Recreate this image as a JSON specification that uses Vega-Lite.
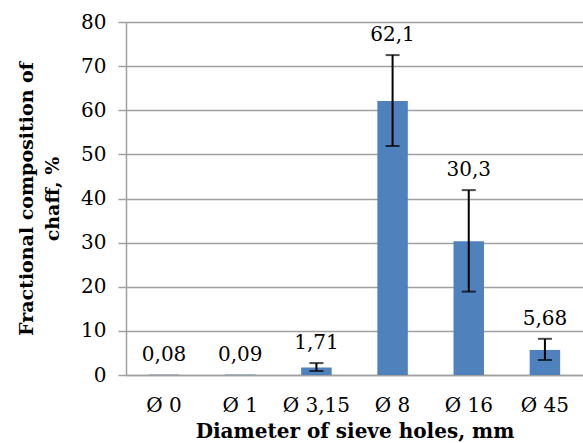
{
  "$schema": "https://vega.github.io/schema/vega-lite/v6.json",
  "width": 457,
  "height": 353,
  "autosize": {"type": "none"},
  "padding": {"left": 126, "top": 22, "right": 0, "bottom": 68},
  "background": "white",
  "config": {
    "view": {"stroke": null},
    "font": "DejaVu Serif"
  },
  "data": {
    "values": [
      {"d": "Ø 0", "v": 0.08, "lo": 0.08, "hi": 0.08, "lab": "0,08"},
      {"d": "Ø 1", "v": 0.09, "lo": 0.09, "hi": 0.09, "lab": "0,09"},
      {"d": "Ø 3,15", "v": 1.71, "lo": 0.9, "hi": 2.7, "lab": "1,71"},
      {"d": "Ø 8", "v": 62.1, "lo": 51.9, "hi": 72.5, "lab": "62,1"},
      {"d": "Ø 16", "v": 30.3, "lo": 18.9, "hi": 41.9, "lab": "30,3"},
      {"d": "Ø 45", "v": 5.68, "lo": 3.4, "hi": 8.2, "lab": "5,68"}
    ]
  },
  "encoding": {
    "x": {
      "field": "d", "type": "nominal", "sort": null,
      "scale": {"paddingInner": 0.6, "paddingOuter": 0.3},
      "axis": {
        "title": "Diameter of sieve holes, mm",
        "titleFont": "DejaVu Serif", "titleFontSize": 20, "titleFontWeight": "bold", "titleColor": "black",
        "titlePadding": 6,
        "labelFont": "DejaVu Serif", "labelFontSize": 20, "labelColor": "black", "labelAngle": 0,
        "labelPadding": 20,
        "ticks": false, "domainColor": "#a0a0a0", "domainWidth": 1.5
      }
    }
  },
  "layer": [
    {
      "mark": {"type": "bar", "color": "#4F81BD"},
      "encoding": {
        "y": {
          "field": "v", "type": "quantitative",
          "scale": {"domain": [0, 80]},
          "axis": {
            "values": [0, 10, 20, 30, 40, 50, 60, 70, 80],
            "title": ["Fractional composition of", "chaff, %"],
            "titleFont": "DejaVu Serif", "titleFontSize": 19, "titleFontWeight": "bold", "titleColor": "black",
            "titlePadding": 18,
            "titleLineHeight": 26,
            "labelFont": "DejaVu Serif", "labelFontSize": 20, "labelColor": "black",
            "labelPadding": 12,
            "tickSize": 8, "tickColor": "#a0a0a0", "tickWidth": 1.5,
            "domainColor": "#a0a0a0", "domainWidth": 1.5,
            "gridColor": "#a0a0a0", "gridWidth": 1.5
          }
        }
      }
    },
    {
      "mark": {"type": "rule", "color": "black", "strokeWidth": 2},
      "transform": [{"filter": "datum.hi > datum.lo"}],
      "encoding": {
        "y": {"field": "lo", "type": "quantitative"},
        "y2": {"field": "hi"}
      }
    },
    {
      "mark": {"type": "tick", "color": "black", "thickness": 2, "size": 14, "orient": "horizontal"},
      "transform": [{"filter": "datum.hi > datum.lo"}],
      "encoding": {"y": {"field": "lo", "type": "quantitative"}}
    },
    {
      "mark": {"type": "tick", "color": "black", "thickness": 2, "size": 14, "orient": "horizontal"},
      "transform": [{"filter": "datum.hi > datum.lo"}],
      "encoding": {"y": {"field": "hi", "type": "quantitative"}}
    },
    {
      "mark": {"type": "text", "font": "DejaVu Serif", "fontSize": 20, "color": "black", "baseline": "bottom", "dy": -10},
      "encoding": {
        "y": {"field": "hi", "type": "quantitative"},
        "text": {"field": "lab"}
      }
    }
  ]
}
